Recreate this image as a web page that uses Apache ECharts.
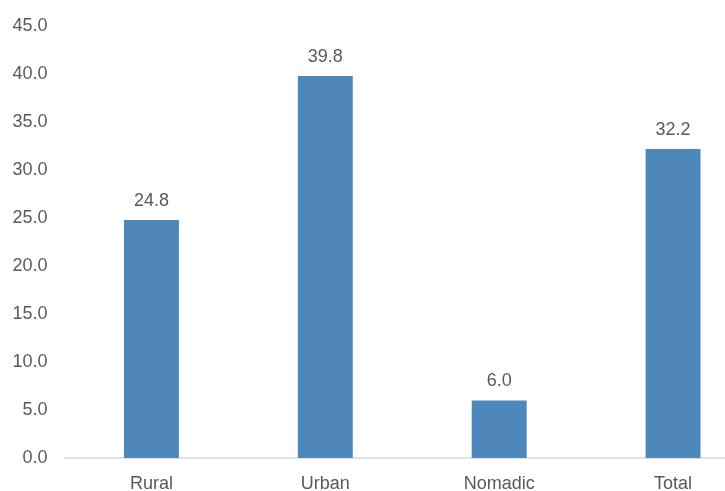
<!DOCTYPE html>
<html><head><meta charset="utf-8">
<script src="https://cdn.jsdelivr.net/npm/echarts@6/dist/echarts.min.js"></script>
<style>html,body{margin:0;padding:0;background:#fff;overflow:hidden;width:725px;height:491px}#c{width:760px;height:491px}</style>
</head><body><div id="c"></div>
<script>
const categories = ["Rural", "Urban", "Nomadic", "Total"];
const values = [24.8, 39.8, 6.0, 32.2];
const chart = echarts.init(document.getElementById('c'), null, {renderer: 'canvas'});
const font = "'Liberation Sans', Arial, sans-serif";
chart.setOption({
  animation: false,
  grid: {left: 64.5, right: 0, top: 26, bottom: 33, containLabel: false, outerBoundsMode: 'none'},
  xAxis: {
    type: 'category', data: categories,
    axisLine: {lineStyle: {color: '#d9d9d9', width: 1.5}},
    axisTick: {show: false},
    axisLabel: {color: '#595959', fontSize: 18, fontFamily: font, margin: 17}
  },
  yAxis: {
    type: 'value', min: 0, max: 45, interval: 5,
    axisLine: {show: false}, axisTick: {show: false},
    splitLine: {show: false},
    axisLabel: {color: '#595959', fontSize: 18, fontFamily: font, margin: 17,
      formatter: v => v.toFixed(1)}
  },
  series: [{
    type: 'bar', data: values, barWidth: '31.6%',
    itemStyle: {color: '#4e88bb'},
    label: {show: true, position: 'top', distance: 10, color: '#595959', fontSize: 18, fontFamily: font,
      formatter: p => p.value.toFixed(1)}
  }]
});
</script></body></html>
